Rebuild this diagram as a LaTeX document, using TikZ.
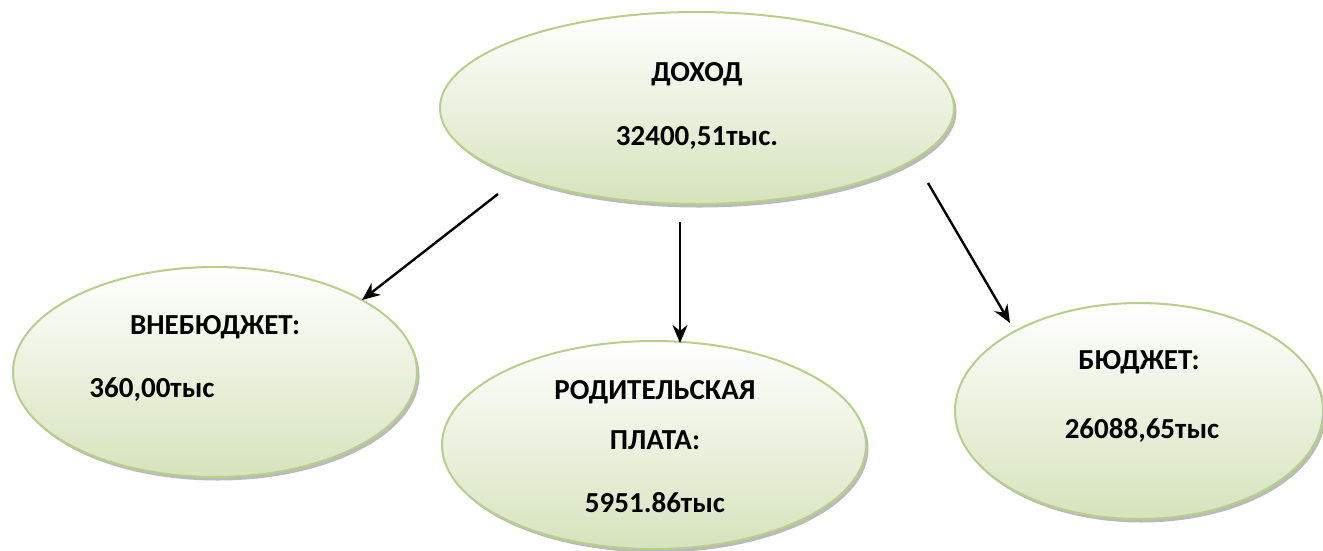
\documentclass[tikz,border=0pt]{standalone}
\usepackage{fontspec}
\setmainfont{Carlito}
\usetikzlibrary{shapes.geometric,shadows,arrows.meta}
\definecolor{ringgreen}{HTML}{B8CF8A}
\definecolor{fillgreen}{HTML}{D6E3BC}
\tikzset{
  oval/.style={ellipse, draw=ringgreen, line width=2pt, inner sep=0pt,
    top color=white, bottom color=fillgreen,
    drop shadow={shadow xshift=2.5pt, shadow yshift=-3.5pt, fill=black!45, opacity=0.6}},
  lbl/.style={font=\fontsize{29}{34}\selectfont\bfseries, inner sep=0pt, anchor=center},
  arr/.style={line width=2.4pt, -{Stealth[length=18pt,width=15pt]}}
}
\begin{document}
\begin{tikzpicture}[x=1pt,y=-1pt]
\useasboundingbox (0,0) rectangle (1323,550);
\node[oval, minimum width=514pt, minimum height=192pt] (top) at (697,108) {};
\node[oval, minimum width=404pt, minimum height=210pt] (left) at (215,372) {};
\node[oval, minimum width=424pt, minimum height=208pt] (mid) at (654,445) {};
\node[oval, minimum width=368pt, minimum height=216pt] (right) at (1139,411) {};

\node[lbl] (t1) at (697,74) {ДОХОД};
\node[lbl] (t2) at (697,138) {32400,51тыс.};
\node[lbl] (l1) at (215,327) {ВНЕБЮДЖЕТ:};
\node[lbl] (l2) at (152,390) {360,00тыс};
\node[lbl] (m1) at (655,392) {РОДИТЕЛЬСКАЯ};
\node[lbl] (m2) at (655,440) {ПЛАТА:};
\node[lbl] (m3) at (655,503) {5951.86тыс};
\node[lbl] (r1) at (1139,362) {БЮДЖЕТ:};
\node[lbl] (r2) at (1142,430) {26088,65тыс};

\coordinate (sL) at (498,194);
\coordinate (sM) at (680,222);
\coordinate (sR) at (928,183);
\coordinate (eL) at (362,300);
\coordinate (eM) at (680,343);
\coordinate (eR) at (1010,323);
\draw[arr] (sL) -- (eL);
\draw[arr] (sM) -- (eM);
\draw[arr] (sR) -- (eR);
\end{tikzpicture}
\end{document}
